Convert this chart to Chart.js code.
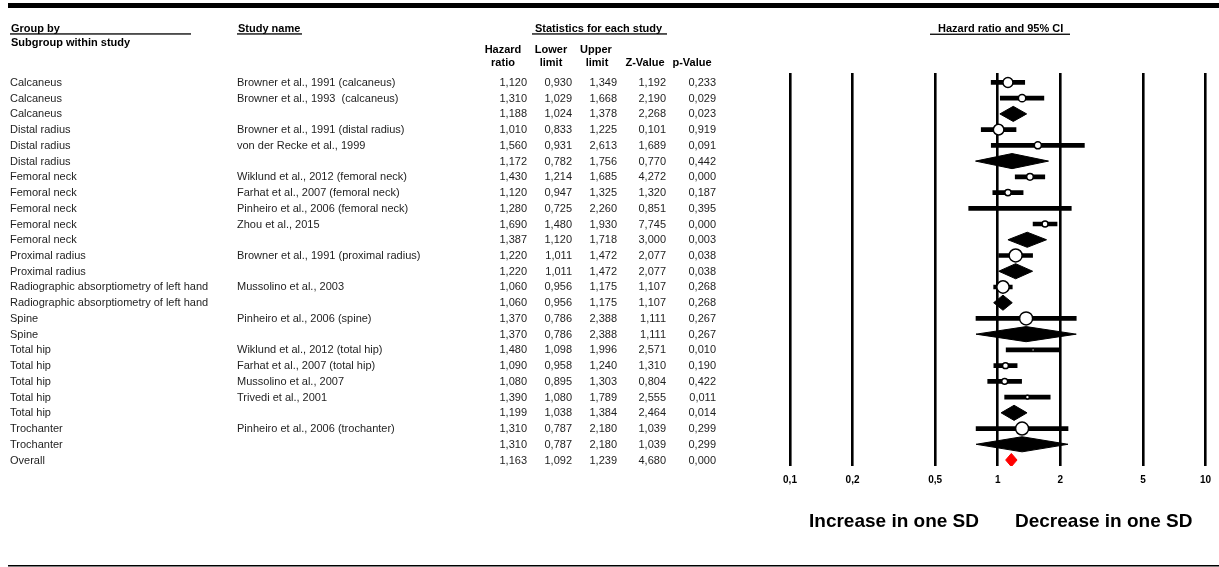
<!DOCTYPE html>
<html>
<head>
<meta charset="utf-8">
<script src="https://cdn.jsdelivr.net/npm/chart.js@4.4.1/dist/chart.umd.min.js"></script>
<style>
  html, body { margin: 0; padding: 0; background: #fff; }
  #wrap { width: 1219px; height: 567px; position: relative; }
</style>
</head>
<body>
<div id="wrap"><canvas id="forest"></canvas></div>
<script>
// one entry per row, top to bottom; empty study name = subgroup summary
var groups = ["Calcaneus", "Calcaneus", "Calcaneus", "Distal radius", "Distal radius", "Distal radius",
  "Femoral neck", "Femoral neck", "Femoral neck", "Femoral neck", "Femoral neck",
  "Proximal radius", "Proximal radius",
  "Radiographic absorptiometry of left hand", "Radiographic absorptiometry of left hand",
  "Spine", "Spine", "Total hip", "Total hip", "Total hip", "Total hip", "Total hip",
  "Trochanter", "Trochanter", "Overall"];
var studies = ["Browner et al., 1991 (calcaneus)", "Browner et al., 1993  (calcaneus)", "",
  "Browner et al., 1991 (distal radius)", "von der Recke et al., 1999", "",
  "Wiklund et al., 2012 (femoral neck)", "Farhat et al., 2007 (femoral neck)",
  "Pinheiro et al., 2006 (femoral neck)", "Zhou et al., 2015", "",
  "Browner et al., 1991 (proximal radius)", "",
  "Mussolino et al., 2003", "",
  "Pinheiro et al., 2006 (spine)", "",
  "Wiklund et al., 2012 (total hip)", "Farhat et al., 2007 (total hip)", "Mussolino et al., 2007",
  "Trivedi et al., 2001", "",
  "Pinheiro et al., 2006 (trochanter)", "", ""];
var hr = [1.120, 1.310, 1.188, 1.010, 1.560, 1.172, 1.430, 1.120, 1.280, 1.690, 1.387, 1.220, 1.220,
  1.060, 1.060, 1.370, 1.370, 1.480, 1.090, 1.080, 1.390, 1.199, 1.310, 1.310, 1.163];
var lower = [0.930, 1.029, 1.024, 0.833, 0.931, 0.782, 1.214, 0.947, 0.725, 1.480, 1.120, 1.011, 1.011,
  0.956, 0.956, 0.786, 0.786, 1.098, 0.958, 0.895, 1.080, 1.038, 0.787, 0.787, 1.092];
var upper = [1.349, 1.668, 1.378, 1.225, 2.613, 1.756, 1.685, 1.325, 2.260, 1.930, 1.718, 1.472, 1.472,
  1.175, 1.175, 2.388, 2.388, 1.996, 1.240, 1.303, 1.789, 1.384, 2.180, 2.180, 1.239];
var zValue = [1.192, 2.190, 2.268, 0.101, 1.689, 0.770, 4.272, 1.320, 0.851, 7.745, 3.000, 2.077, 2.077,
  1.107, 1.107, 1.111, 1.111, 2.571, 1.310, 0.804, 2.555, 2.464, 1.039, 1.039, 4.680];
var pValue = [0.233, 0.029, 0.023, 0.919, 0.091, 0.442, 0.000, 0.187, 0.395, 0.000, 0.003, 0.038, 0.038,
  0.268, 0.268, 0.267, 0.267, 0.010, 0.190, 0.422, 0.011, 0.014, 0.299, 0.299, 0.000];
// relative weight of each study inside its subgroup (box size)
var weight = [59, 32, null, 66, 29, null, 26, 24, 1, 21, null, 100, null, 90, null, 100, null,
  5, 21, 21, 9, null, 100, null, null];
var xTicks = [0.1, 0.2, 0.5, 1, 2, 5, 10];

var FONT = "'Liberation Sans', Arial, sans-serif";
var rows = groups.map(function(g, i){ return i; });
var studyRows = rows.filter(function(i){ return studies[i] !== "" ; });
var summaryRows = rows.filter(function(i){ return studies[i] === ""; });
var overallRow = groups.length - 1;

function fmt(v){ return v.toFixed(3).replace(".", ","); }

var ciBars = {
  type: "bar",
  indexAxis: "y",
  data: studyRows.map(function(i){ return { y: i + 1, x: [lower[i], upper[i]] }; }),
  backgroundColor: "#000",
  barThickness: 4,
  order: 3
};

var boxes = {
  type: "scatter",
  data: studyRows.map(function(i){ return { x: hr[i], y: i + 1 }; }),
  pointRadius: studyRows.map(function(i){ return Math.max(0.8, 6.5 * Math.sqrt(weight[i] / 100)); }),
  pointBackgroundColor: "#fff",
  pointBorderColor: "#000",
  pointBorderWidth: 1.5,
  order: 0
};

var diamonds = summaryRows.map(function(i){
  var h = i === overallRow ? 0.42 : 0.48;
  var col = i === overallRow ? "#ff0000" : "#000";
  var r = i + 1;
  return {
    type: "line",
    data: [{x: lower[i], y: r}, {x: hr[i], y: r - h}, {x: upper[i], y: r}, {x: hr[i], y: r + h}, {x: lower[i], y: r}],
    borderColor: col,
    backgroundColor: col,
    borderWidth: 1,
    pointRadius: 0,
    tension: 0,
    fill: "shape",
    order: 1
  };
});

function text(ctx, s, x, y, align, font){
  ctx.font = font;
  ctx.textAlign = align;
  ctx.fillText(s, x, y);
}

var tablePlugin = {
  id: "studyTable",
  afterDraw: function(chart){
    var ctx = chart.ctx;
    var ys = chart.scales.y;
    var bold = "bold 11px " + FONT;
    var reg = "11px " + FONT;
    ctx.save();
    ctx.fillStyle = "#000";
    // rules
    ctx.fillRect(8, 3, 1211, 5);
    ctx.fillRect(8, 565, 1211, 1.5);
    ctx.fillRect(10, 33.3, 181, 1.3);
    ctx.fillRect(237, 33.3, 65, 1.3);
    ctx.fillRect(532, 33.3, 135, 1.3);
    ctx.fillRect(930, 33.6, 140, 1.3);

    ctx.textBaseline = "alphabetic";
    text(ctx, "Group by", 11, 31.5, "left", bold);
    text(ctx, "Subgroup within study", 11, 45.5, "left", bold);
    text(ctx, "Study name", 238, 31.5, "left", bold);
    text(ctx, "Statistics for each study", 535, 31.5, "left", bold);
    text(ctx, "Hazard ratio and 95% CI", 938, 32, "left", bold);
    text(ctx, "Hazard", 503, 52.5, "center", bold);
    text(ctx, "ratio", 503, 65.5, "center", bold);
    text(ctx, "Lower", 551, 52.5, "center", bold);
    text(ctx, "limit", 551, 65.5, "center", bold);
    text(ctx, "Upper", 596, 52.5, "center", bold);
    text(ctx, "limit", 597, 65.5, "center", bold);
    text(ctx, "Z-Value", 645, 65.5, "center", bold);
    text(ctx, "p-Value", 692, 65.5, "center", bold);

    ctx.fillStyle = "#1e1e1e";
    ctx.textBaseline = "middle";
    rows.forEach(function(i){
      var y = ys.getPixelForValue(i + 1) + 0.5;
      text(ctx, groups[i], 10, y, "left", reg);
      if (studies[i]) text(ctx, studies[i], 237, y, "left", reg);
      text(ctx, fmt(hr[i]), 527, y, "right", reg);
      text(ctx, fmt(lower[i]), 572, y, "right", reg);
      text(ctx, fmt(upper[i]), 617, y, "right", reg);
      text(ctx, fmt(zValue[i]), 666, y, "right", reg);
      text(ctx, fmt(pValue[i]), 716, y, "right", reg);
    });

    ctx.fillStyle = "#000";
    ctx.textBaseline = "alphabetic";
    text(ctx, "Increase in one SD", 809, 527, "left", "bold 19px " + FONT);
    text(ctx, "Decrease in one SD", 1015, 527, "left", "bold 19px " + FONT);
    ctx.restore();
  }
};

var chart = new Chart(document.getElementById("forest"), {
  type: "scatter",
  data: { datasets: [boxes].concat(diamonds, [ciBars]) },
  options: {
    responsive: true,
    maintainAspectRatio: false,
    animation: false,
    layout: { padding: { left: 790, right: 12, top: 73, bottom: 0 } },
    plugins: { legend: { display: false }, tooltip: { enabled: false } },
    scales: {
      x: {
        type: "logarithmic",
        position: "bottom",
        min: 0.1,
        max: 10,
        afterBuildTicks: function(scale){
          scale.ticks = xTicks.map(function(v){ return { value: v }; });
        },
        afterFit: function(scale){ scale.height = 101; },
        border: { display: false },
        grid: { color: "#000", lineWidth: 2.6, drawTicks: false },
        ticks: {
          autoSkip: false,
          maxRotation: 0,
          padding: 8,
          color: "#000",
          font: { family: FONT, size: 10, weight: "bold" },
          callback: function(v){ return String(v).replace(".", ","); }
        }
      },
      y: {
        type: "linear",
        display: false,
        reverse: true,
        min: 0.4,
        max: 25.38,
        offset: false
      }
    }
  },
  plugins: [tablePlugin]
});
</script>
</body>
</html>
